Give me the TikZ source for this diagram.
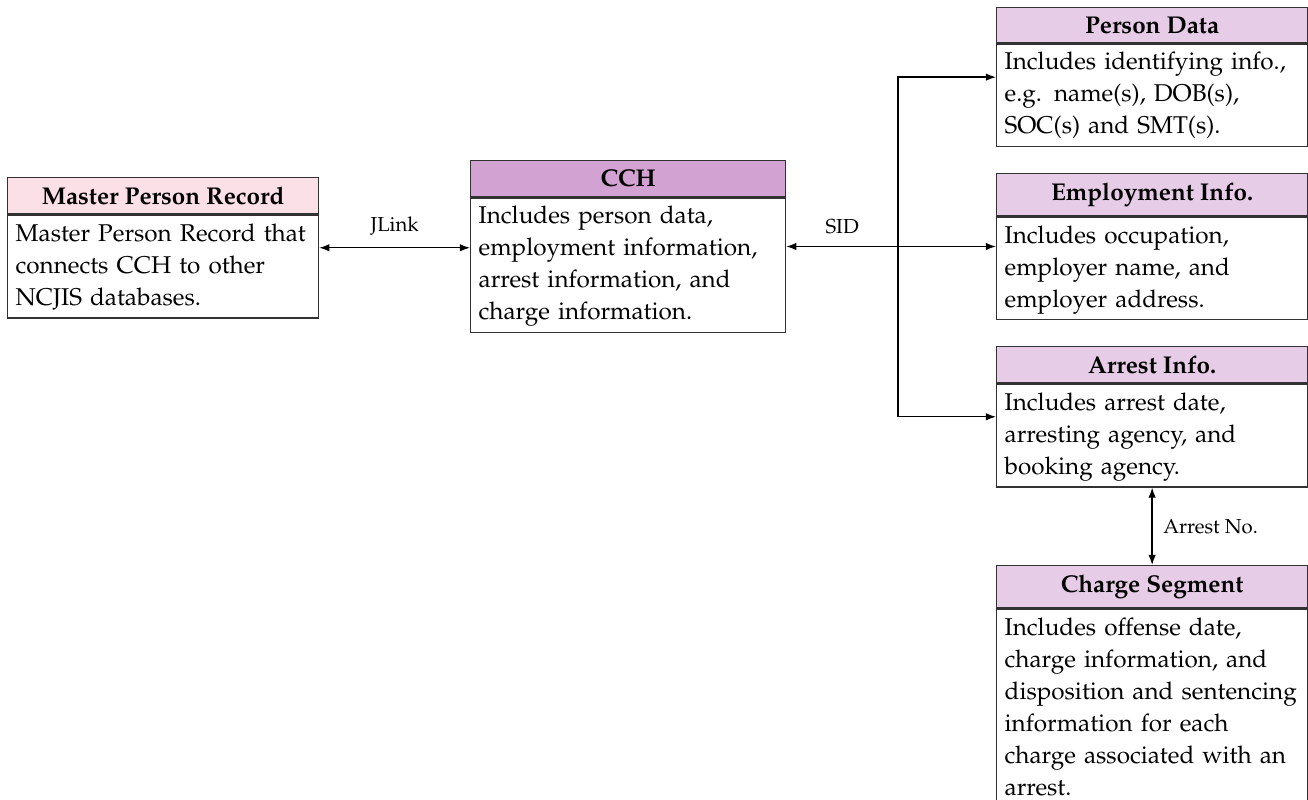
\documentclass[tikz,border=0pt]{standalone}
\usepackage[T1]{fontenc}
\usepackage{mathpazo}
\usetikzlibrary{arrows.meta,fit,calc}
\definecolor{mprcol}{RGB}{252,224,231}
\definecolor{cchcol}{RGB}{210,163,210}
\definecolor{subcol}{RGB}{231,204,231}
\definecolor{edgecol}{RGB}{50,50,50}
\tikzset{
  boxtitle/.style={draw=edgecol, line width=0.5pt, anchor=north west, inner xsep=0pt, inner ysep=3.5pt,
    font=\fontsize{9.1}{12}\selectfont\bfseries, align=center},
  boxbody/.style={draw=edgecol, line width=0.5pt, anchor=north west, inner xsep=3pt, inner ysep=1.2pt,
    font=\fontsize{9.1}{12}\selectfont, align=left,
    execute at begin node=\strut, execute at end node=\strut},
  group/.style={inner sep=0pt, outer sep=0pt},
  tip/.tip={Latex[length=3.8pt,width=2.8pt]},
  twoway/.style={line width=0.5pt, tip-tip},
  oneway/.style={line width=0.5pt, -tip},
  backway/.style={line width=0.5pt, tip-},
  lbl/.style={font=\fontsize{7.6}{9}\selectfont, inner sep=2pt}
}
\begin{document}
\begin{tikzpicture}[x=0.375pt,y=-0.375pt]
\useasboundingbox (0,0) rectangle (1308,800);
\fill[white] (0,0) rectangle (1308,800);
\clip (0,0) rectangle (1308,800);

% Master Person Record
\node[boxtitle, fill=mprcol, minimum width=116.6pt] (mprT) at (7,177) {Master Person Record};
\node[boxbody, text width=110.6pt] (mprB) at (mprT.south west)
  {Master Person Record that\\ connects CCH to other\\ NCJIS databases.};
\node[group, fit=(mprT)(mprB)] (mpr) {};

% CCH
\node[boxtitle, fill=cchcol, minimum width=118.1pt] (cchT) at (470,160) {CCH};
\node[boxbody, text width=112.1pt] (cchB) at (cchT.south west)
  {Includes person data,\\ employment information,\\ arrest information, and\\ charge information.};
\node[group, fit=(cchT)(cchB)] (cch) {};

% Person Data
\node[boxtitle, fill=subcol, minimum width=116.6pt] (perT) at (996,7) {Person Data};
\node[boxbody, text width=110.6pt] (perB) at (perT.south west)
  {Includes identifying info.,\\ e.g. name(s), DOB(s),\\ SOC(s) and SMT(s).};
\node[group, fit=(perT)(perB)] (per) {};

% Employment Info.
\node[boxtitle, fill=subcol, minimum width=116.6pt] (empT) at (996,173) {Employment Info.};
\node[boxbody, text width=110.6pt] (empB) at (empT.south west)
  {Includes occupation,\\ employer name, and\\ employer address.};
\node[group, fit=(empT)(empB)] (emp) {};

% Arrest Info.
\node[boxtitle, fill=subcol, minimum width=116.6pt] (arrT) at (996,346) {Arrest Info.};
\node[boxbody, text width=110.6pt] (arrB) at (arrT.south west)
  {Includes arrest date,\\ arresting agency, and\\ booking agency.};
\node[group, fit=(arrT)(arrB)] (arr) {};

% Charge Segment
\node[boxtitle, fill=subcol, minimum width=116.6pt] (chgT) at (996,565) {Charge Segment};
\node[boxbody, text width=110.6pt] (chgB) at (chgT.south west)
  {Includes offense date,\\ charge information, and\\ disposition and sentencing\\ information for each\\ charge associated with an\\ arrest.};
\node[group, fit=(chgT)(chgB)] (chg) {};

% connectors
\draw[twoway] (mpr.east) -- node[lbl, above=2.5pt] {JLink} (mpr.east -| cch.west);
\coordinate (j) at (898,0 |- cch.east);
\draw[backway] (cch.east) -- node[lbl, above=2.5pt] {SID} (j);
\draw[oneway] (j) -- (j -| emp.west);
\draw[oneway] (j) |- (per.west);
\draw[oneway] (j) |- (arr.west);
\draw[twoway] (arr.south) -- node[lbl, right=2pt] {Arrest No.} (arr.south |- chg.north);
\end{tikzpicture}
\end{document}
